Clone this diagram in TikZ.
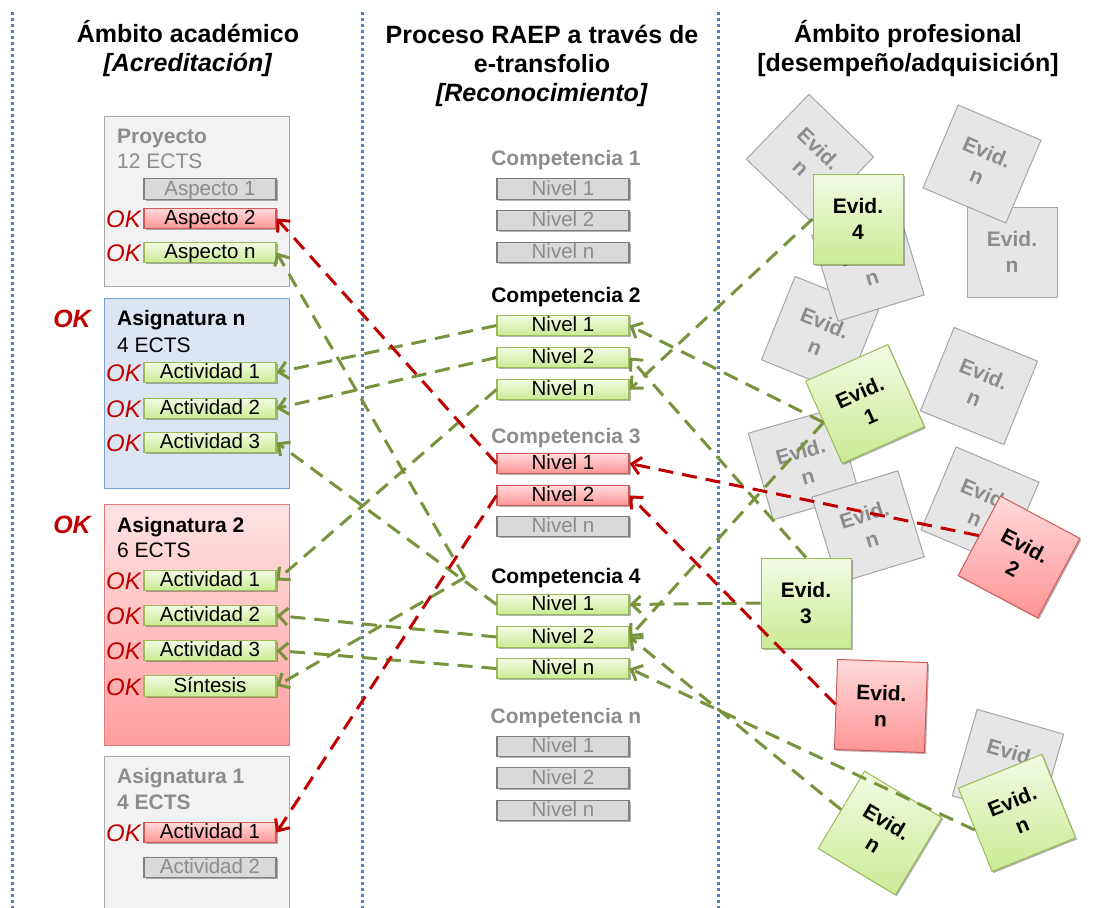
\documentclass[tikz,border=0pt]{standalone}
\usepackage{fontspec}
\setmainfont{Liberation Sans}
\usetikzlibrary{calc}
\usetikzlibrary{shapes}
\usetikzlibrary{arrows.meta,shadows}

\definecolor{lnGreen}{HTML}{77933C}
\definecolor{lnRed}{HTML}{C00000}
\definecolor{okRed}{HTML}{C00000}
\definecolor{sepBlue}{HTML}{4F81BD}
\definecolor{grayTxt}{HTML}{8C8C8C}
\definecolor{grayFill}{HTML}{D9D9D9}
\definecolor{grayLine}{HTML}{7F7F7F}
\definecolor{contGray}{HTML}{F2F2F2}
\definecolor{contGrayLine}{HTML}{A6A6A6}
\definecolor{contBlue}{HTML}{DCE6F2}
\definecolor{contBlueLine}{HTML}{7BA0D4}
\definecolor{contRedTop}{HTML}{FFE3E3}
\definecolor{contRedBot}{HTML}{FF9E9E}
\definecolor{contRedLine}{HTML}{E07B7B}
\definecolor{grnTop}{HTML}{F2FBE3}
\definecolor{grnBot}{HTML}{CBEA94}
\definecolor{grnLine}{HTML}{9BBB59}
\definecolor{redTop}{HTML}{FFDADA}
\definecolor{redBot}{HTML}{FF9494}
\definecolor{redLine}{HTML}{D05A5A}
\definecolor{evGray}{HTML}{E6E6E6}
\definecolor{evGrayLine}{HTML}{A6A6A6}

\tikzset{
  hdr/.style={font=\bfseries\fontsize{25}{29}\selectfont, align=center, anchor=base, inner sep=0pt},
  sep/.style={draw=sepBlue, line width=3pt, dash pattern=on 3pt off 3pt},
  cont/.style={draw, line width=1.2pt, anchor=north west, minimum width=185pt, inner sep=0pt},
  ttl/.style={font=\bfseries\fontsize{21}{24}\selectfont, anchor=base west, inner sep=0pt},
  ects/.style={font=\fontsize{21}{24}\selectfont, anchor=base west, inner sep=0pt},
  okbig/.style={font=\bfseries\itshape\fontsize{25}{25}\selectfont, text=okRed, inner sep=0pt},
  ok/.style={font=\itshape\fontsize{24}{24}\selectfont, text=okRed, anchor=east, inner sep=0pt},
  shd/.style={drop shadow={shadow xshift=1.5pt, shadow yshift=-1.5pt, opacity=.3, fill=black}},
  box/.style={shd, minimum width=132pt, minimum height=20.5pt, inner sep=0pt, text height=15pt, text depth=3pt, line width=1.1pt, font=\fontsize{20.5}{20}\selectfont},
  gbox/.style={box, draw=grnLine, top color=grnTop, bottom color=grnBot},
  rbox/.style={box, draw=redLine, top color=redTop, bottom color=redBot},
  nbox/.style={box, draw=grayLine, fill=grayFill, text=grayTxt},
  comp/.style={font=\bfseries\fontsize{21}{24}\selectfont, anchor=base, minimum width=202pt, inner sep=0pt},
  ev/.style={minimum size=90pt, inner sep=0pt, align=center, line width=1pt, font=\bfseries\fontsize{21}{26}\selectfont},
  evn/.style={ev, draw=evGrayLine, fill=evGray, text=grayTxt},
  evg/.style={ev, shd, draw=grnLine, top color=grnTop, bottom color=grnBot},
  evr/.style={ev, shd, draw=redLine, top color=redTop, bottom color=redBot},
  lnk/.style={line width=3pt, dash pattern=on 15pt off 9pt, -{Straight Barb[length=9pt,width=17pt]}},
  glnk/.style={lnk, draw=lnGreen},
  rlnk/.style={lnk, draw=lnRed}
}

\begin{document}
\begin{tikzpicture}[x=1pt,y=-1pt]
\useasboundingbox (0,0) rectangle (1096,908);
\foreach \x in {12,362,718}
  \draw[sep] (\x,12) -- (\x,908);

\node[hdr] (hacad) at (188,71) {Ámbito académico\\\textit{[Acreditación]}};
\node[hdr] (hraep) at (542,101) {Proceso RAEP a través de\\e-transfolio\\\textit{[Reconocimiento]}};
\node[hdr] (hprof) at (908,71) {Ámbito profesional\\{[desempeño/adquisición]}};

% academic side
\node[cont, draw=contGrayLine, fill=contGray, minimum height=170pt] (proy) at (104,116) {};
\node[cont, draw=contBlueLine, fill=contBlue, minimum height=190pt] (asn) at (104,298) {};
\node[cont, draw=contRedLine, top color=contRedTop, bottom color=contRedBot, minimum height=241pt] (as2) at (104,504) {};
\node[cont, draw=contGrayLine, fill=contGray, minimum height=180pt] (as1) at (104,756) {};

\node[ttl, text=grayTxt] (proyt) at (117,143) {Proyecto};
\node[ects, text=grayTxt] (proye) at (117,168) {12 ECTS};
\node[ttl] (asnt) at (117,325) {Asignatura n};
\node[ects] (asne) at (117,352) {4 ECTS};
\node[ttl] (as2t) at (117,532) {Asignatura 2};
\node[ects] (as2e) at (117,557) {6 ECTS};
\node[ttl, text=grayTxt] (as1t) at (117,783) {Asignatura 1};
\node[ttl, text=grayTxt] (as1e) at (117,809) {4 ECTS};

\node[okbig] (okasn) at (72,319) {OK};
\node[okbig] (okas2) at (72,525) {OK};

\node[nbox] (asp1) at (210,189) {Aspecto 1};
\node[rbox] (asp2) at (210,218.5) {Aspecto 2};
\node[gbox] (aspn) at (210,252.5) {Aspecto n};
\node[gbox] (an1) at (210,372.5) {Actividad 1};
\node[gbox] (an2) at (210,408.5) {Actividad 2};
\node[gbox] (an3) at (210,442.5) {Actividad 3};
\node[gbox] (a21) at (210,580.5) {Actividad 1};
\node[gbox] (a22) at (210,615.5) {Actividad 2};
\node[gbox] (a23) at (210,650.5) {Actividad 3};
\node[gbox] (sint) at (210,686) {Síntesis};
\node[rbox] (a11) at (210,832.5) {Actividad 1};
\node[nbox] (a12) at (210,867.5) {Actividad 2};

\foreach \y [count=\i] in {218.5,252.5,372.5,408.5,442.5,580.5,615.5,650.5,686,832.5}
  \node[ok] (ok\i) at (141,\y+1) {OK};

% RAEP process
\node[comp, text=grayTxt] (comp1) at (566,165) {Competencia 1};
\node[nbox] (c1n1) at (563,189) {Nivel 1};
\node[nbox] (c1n2) at (563,220.5) {Nivel 2};
\node[nbox] (c1nn) at (563,252.5) {Nivel n};
\node[comp] (comp2) at (566,302) {Competencia 2};
\node[gbox] (c2n1) at (563,325.5) {Nivel 1};
\node[gbox] (c2n2) at (563,357.5) {Nivel 2};
\node[gbox] (c2nn) at (563,389.5) {Nivel n};
\node[comp, text=grayTxt] (comp3) at (566,443) {Competencia 3};
\node[rbox] (c3n1) at (563,463.5) {Nivel 1};
\node[rbox] (c3n2) at (563,495.5) {Nivel 2};
\node[nbox] (c3nn) at (563,526.5) {Nivel n};
\node[comp] (comp4) at (566,583) {Competencia 4};
\node[gbox] (c4n1) at (563,604.5) {Nivel 1};
\node[gbox] (c4n2) at (563,637) {Nivel 2};
\node[gbox] (c4nn) at (563,668.5) {Nivel n};
\node[comp, text=grayTxt] (compn) at (566,723) {Competencia n};
\node[nbox] (cnn1) at (563,746.5) {Nivel 1};
\node[nbox] (cnn2) at (563,778) {Nivel 2};
\node[nbox] (cnnn) at (563,810.5) {Nivel n};

% professional side
\node[evn, rotate=-44] (ev01) at (810,158) {Evid.\\n};
\node[evn, rotate=-22] (ev02) at (820,335) {Evid.\\n};
\node[evn, rotate=17] (ev03) at (868,265) {Evid.\\n};
\node[evn] (ev04) at (1012,252) {Evid.\\n};
\node[evn, rotate=-23] (ev05) at (982,164) {Evid.\\n};
\node[evn, rotate=-22] (ev06) at (979,386) {Evid.\\n};
\node[evn, rotate=16] (ev07) at (804,464) {Evid.\\n};
\node[evn, rotate=17] (ev08) at (868,527) {Evid.\\n};
\node[evn, rotate=-23] (ev09) at (980,506) {Evid.\\n};
\node[evn, rotate=-16] (ev10) at (1008,765) {Evid.\\n};

\node[evg] (ev4) at (858,219) {Evid.\\4};
\node[evg, rotate=24] (ev1) at (865,404) {Evid.\\1};
\node[evr, rotate=-28] (ev2) at (1019,557) {Evid.\\2};
\node[evg] (ev3) at (806,603) {Evid.\\3};
\node[evr, rotate=-2] (evrn) at (881,706) {Evid.\\n};
\node[evg, rotate=-31] (evgl) at (880,833) {Evid.\\n};
\node[evg, rotate=22] (evgr) at (1017,813) {Evid.\\n};

% links
\draw[glnk] (c2n1.west) -- (an1.east);
\draw[glnk] (c2n2.west) -- (an2.east);
\draw[glnk] (c4n1.west) -- (an3.east);
\draw[glnk] (c2nn.west) -- (a21.east);
\draw[glnk] (c4n2.west) -- (a22.east);
\draw[glnk] (c4nn.west) -- (a23.east);
\draw[glnk] (comp4.west) -- (sint.east);
\draw[glnk] (comp4.west) -- (aspn.east);
\draw[rlnk] (c3n1.west) -- (asp2.east);
\draw[rlnk] (c3n2.west) -- (a11.east);

\draw[glnk] (ev1.west) -- (c2n1.east);
\draw[glnk] (ev3.north) -- (c2n2.east);
\draw[glnk] (ev4.west) -- (c2nn.east);
\draw[glnk] (ev3.west) -- (c4n1.east);
\draw[glnk] (ev1.west) -- (c4n2.east);
\draw[glnk] (evgl.west) -- (c4n2.east);
\draw[glnk] (evgr.west) -- (c4nn.east);
\draw[rlnk] (ev2.west) -- (c3n1.east);
\draw[rlnk] (evrn.west) -- (c3n2.east);
\end{tikzpicture}
\end{document}
